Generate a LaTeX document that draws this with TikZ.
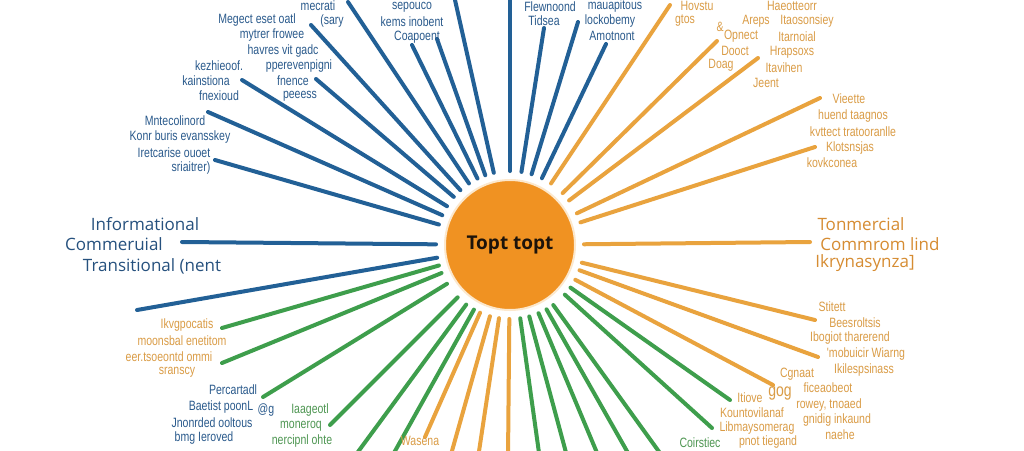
\documentclass[tikz,border=0pt]{standalone}
\usepackage{fontspec}
\setmainfont{Liberation Sans}
\newfontfamily\narrowf[FakeStretch=0.78]{Liberation Sans}
\newfontfamily\bigf{Open Sans}
\definecolor{rayblue}{RGB}{34,96,150}
\definecolor{rayorange}{RGB}{233,163,62}
\definecolor{raygreen}{RGB}{62,158,76}
\definecolor{txtblue}{RGB}{42,90,140}
\definecolor{txtorange}{RGB}{218,156,70}
\definecolor{txtgreen}{RGB}{78,150,82}
\definecolor{bigorange}{RGB}{214,140,50}
\definecolor{circorange}{RGB}{240,146,34}
\definecolor{ringcol}{RGB}{252,232,205}
\tikzset{
  hub/.style={circle, fill=circorange, draw=ringcol, line width=2pt, minimum size=130pt,
    inner sep=0pt, outer sep=9pt, text=black!85!brown,
    font=\bigf\bfseries\fontsize{19}{22}\selectfont},
  rayB/.style={draw=rayblue, line width=4pt, line cap=round},
  rayO/.style={draw=rayorange, line width=4pt, line cap=round},
  rayG/.style={draw=raygreen, line width=4pt, line cap=round},
  lblB/.style={text=txtblue, font=\narrowf\fontsize{13.5}{15}\selectfont, inner sep=0pt},
  lblO/.style={text=txtorange, font=\narrowf\fontsize{13.5}{15}\selectfont, inner sep=0pt},
  lblG/.style={text=txtgreen, font=\narrowf\fontsize{13.5}{15}\selectfont, inner sep=0pt},
  bigB/.style={text=txtblue!90!black, font=\bigf\fontsize{17}{20}\selectfont, inner sep=0pt},
  bigO/.style={text=bigorange, font=\bigf\fontsize{17}{20}\selectfont, inner sep=0pt},
}
\begin{document}
\begin{tikzpicture}[x=1pt,y=-1pt]
\useasboundingbox (0,0) rectangle (1024,450);
\fill[white] (0,0) rectangle (1024,450);
\node[hub] (c) at (510,245) {Topt topt};
% blue rays
\foreach \px/\py [count=\i] in {182/242,137/310,215/160,208/112,242/80,316/79,311/25,348/2,412/45,437/39,455/0,510/0,544/28,578/22,606/44}{
  \coordinate (b\i) at (\px,\py);
  \draw[rayB] (c) -- (b\i);
}
% orange rays
\foreach \px/\py [count=\i] in {670/5,717/41,758/58,820/98,815/147,810/242,815/320,818/357,773/385,425/437,450/458,478/458,508/458}{
  \coordinate (o\i) at (\px,\py);
  \draw[rayO] (c) -- (o\i);
}
% green rays
\foreach \px/\py [count=\i] in {222/328,222/363,263/397,330/425,352/460,390/460,540/460,568/460,600/460,632/460,665/460,712/428,730/400}{
  \coordinate (g\i) at (\px,\py);
  \draw[rayG] (c) -- (g\i);
}
% big labels
\node[bigB] (L1) at (145,224) {Informational};
\node[bigB] (L2) at (114,244) {Commeruial};
\node[bigB] (L3) at (152,266) {Transitional (nent};
\node[bigO] (R1) at (861,224) {Tonmercial};
\node[bigO] (R2) at (880,244) {Commrom lind};
\node[bigO] (R3) at (865,263) {Ikrynasynza]};
% upper-left blue labels
\node[lblB] (t1) at (318,6) {mecrati};
\node[lblB] (t2) at (332,21) {(sary};
\node[lblB] (t3) at (257,20) {Megect eset oatl};
\node[lblB] (t4) at (272,35) {mytrer frowee};
\node[lblB] (t5) at (283,51) {havres vit gadc};
\node[lblB] (t6) at (219,66) {kezhieoof.};
\node[lblB] (t7) at (206,81) {kainstiona};
\node[lblB] (t8) at (219,96) {fnexioud};
\node[lblB] (t9) at (299,66) {pperevenpigni};
\node[lblB] (t10) at (293,81) {fnence};
\node[lblB] (t11) at (300,96) {peeess};
\node[lblB] (t12) at (175,121) {Mntecolinord};
\node[lblB] (t13) at (180,137) {Konr buris evansskey};
\node[lblB] (t14) at (174,153) {Iretcarise ouoet};
\node[lblB] (t15) at (191,168) {sriaitrer)};
% top blue labels
\node[lblB] (t16) at (412,7) {sepouco};
\node[lblB] (t17) at (412,22) {kems inobent};
\node[lblB] (t18) at (417,37) {Coapoent};
\node[lblB] (t19) at (550,7) {Flewnoond};
\node[lblB] (t20) at (544,21) {Tidsea};
\node[lblB] (t21) at (615,6) {mauapitous};
\node[lblB] (t22) at (610,21) {lockobemy};
\node[lblB] (t23) at (612,36) {Amotnont};
% upper-right orange labels
\node[lblO] (u1) at (697,6) {Hovstu};
\node[lblO] (u2) at (685,21) {gtos};
\node[lblO] (u3) at (792,6) {Haeotteorr};
\node[lblO] (u4) at (756,21) {Areps};
\node[lblO] (u5) at (807,21) {Itaosonsiey};
\node[lblO] (u6) at (720,27) {\&};
\node[lblO] (u7) at (741,36) {Opnect};
\node[lblO] (u8) at (797,37) {Itarnoial};
\node[lblO] (u9) at (735,51) {Dooct};
\node[lblO] (u10) at (792,52) {Hrapsoxs};
\node[lblO] (u11) at (721,65) {Doag};
\node[lblO] (u12) at (784,68) {Itavihen};
\node[lblO] (u13) at (766,83) {Jeent};
\node[lblO] (u14) at (849,99) {Vieette};
\node[lblO] (u15) at (853,116) {huend taagnos};
\node[lblO] (u16) at (853,132) {kvttect tratooranlle};
\node[lblO] (u17) at (850,148) {Klotsnsjas};
\node[lblO] (u18) at (832,163) {kovkconea};
% lower-left labels
\node[lblO] (v1) at (187,325) {Ikvgpocatis};
\node[lblO] (v2) at (182,341) {moonsbal enetitom};
\node[lblO] (v3) at (169,357) {eer.tsoeontd ommi};
\node[lblO] (v4) at (177,372) {sranscy};
\node[lblB] (v5) at (233,390) {Percartadl};
\node[lblB] (v6) at (221,407) {Baetist poonL};
\node[lblB] (v7) at (266,410) {@g};
\node[lblB] (v8) at (212,423) {Jnonrded ooltous};
\node[lblB] (v9) at (204,438) {bmg Ieroved};
\node[lblG] (v10) at (310,410) {Iaageotl};
\node[lblG] (v11) at (301,426) {moneroq};
\node[lblG] (v12) at (302,441) {nercipnl ohte};
\node[lblO] (v13) at (420,441) {Wasena};
% lower-right labels
\node[lblO] (w1) at (832,307) {Stitett};
\node[lblO] (w2) at (855,323) {Beesroltsis};
\node[lblO] (w3) at (850,338) {Ibogiot tharerend};
\node[lblO] (w4) at (866,354) {'mobuicir Wiarng};
\node[lblO] (w5) at (864,370) {Ikilespsinass};
\node[lblO] (w6) at (797,374) {Cgnaat};
\node[lblO, font=\narrowf\fontsize{18}{20}\selectfont] (w7) at (780,394) {gog};
\node[lblO] (w8) at (828,388) {ficeaobeot};
\node[lblO] (w9) at (750,398) {Itiove};
\node[lblO] (w10) at (752,413) {Kountovilanaf};
\node[lblO] (w11) at (829,405) {rowey, tnoaed};
\node[lblO] (w12) at (757,428) {Libmaysomerag};
\node[lblO] (w13) at (837,420) {gnidig inkaund};
\node[lblO] (w14) at (840,435) {naehe};
\node[lblO] (w15) at (768,442) {pnot tiegand};
\node[lblG] (w16) at (700,443) {Coirstiec};
\end{tikzpicture}
\end{document}
